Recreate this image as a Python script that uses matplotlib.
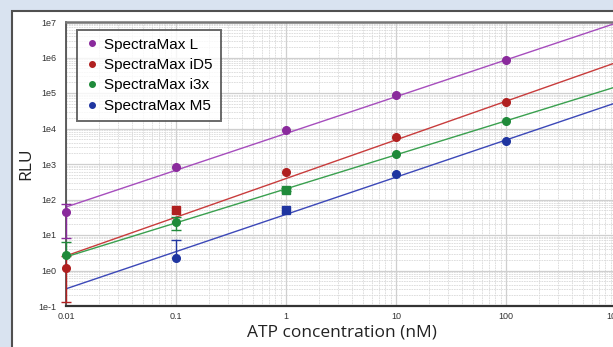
import matplotlib.pyplot as plt
import numpy as np
from matplotlib.patches import Rectangle
from matplotlib.ticker import LogLocator, FixedLocator, FixedFormatter, NullFormatter

# ATP concentrations (nM)
conc = [0.01, 0.1, 1, 10, 100]

names = ["SpectraMax L", "SpectraMax iD5", "SpectraMax i3x", "SpectraMax M5"]
line_colors = ["#a64dbd", "#c83c3c", "#3aa04f", "#3c48b8"]
dot_colors = ["#8a2a9c", "#b02020", "#1f8a3a", "#1f35a0"]

# measured RLU (nan = not shown)
rlu_L = [45, 830, 9100, 88000, 850000]
rlu_iD5 = [1.2, 50, 590, 5700, 56000]
rlu_i3x = [2.7, 23, 185, 1900, 16000]
rlu_M5 = [np.nan, 2.2, 50, 520, 4500]

# error bar ends (low, high); None = no bar
err_L = [(8, 74), None, None, None, None]
err_iD5 = [(0.13, 2.6), None, None, None, None]
err_i3x = [(2.7, 6.3), (14, 32), (170, 205), None, None]
err_M5 = [None, (2.2, 7.2), None, None, None]

# marker shape per point
shape_L = ["o", "o", "o", "o", "o"]
shape_iD5 = ["o", "s", "o", "o", "o"]
shape_i3x = ["o", "o", "s", "o", "o"]
shape_M5 = ["o", "o", "s", "o", "o"]

# log-log fit: log10(RLU) = slope * log10(conc) + intercept
fit_slope = [1.036, 1.089, 0.958, 1.048]
fit_intercept = [3.86, 2.59, 2.30, 1.58]

series = [
    (rlu_L, err_L, shape_L),
    (rlu_iD5, err_iD5, shape_iD5),
    (rlu_i3x, err_i3x, shape_i3x),
    (rlu_M5, err_M5, shape_M5),
]

W, H = 613, 347
fig = plt.figure(figsize=(W / 100, H / 100), dpi=100)
fig.patch.set_facecolor("#d9e3f0")

# white panel behind the chart
panel = Rectangle((12 / W, -0.1), 1.2, (H - 11) / H + 0.1, transform=fig.transFigure,
                  facecolor="white", edgecolor="#505050", linewidth=1.5, zorder=-5)
fig.patches.append(panel)

ax = fig.add_axes([66 / W, 41 / H, 550 / W, 284 / H])
ax.set_zorder(1)
ax.set_facecolor("white")
ax.set_xscale("log")
ax.set_yscale("log", nonpositive="clip")
ax.set_xlim(0.01, 1000)
ax.set_ylim(0.1, 1e7)

ax.grid(True, which="major", color="#cfcfcf", linewidth=0.9)
ax.grid(True, which="minor", color="#d9d9d9", linewidth=0.6, linestyle=(0, (2, 1)))
ax.xaxis.set_minor_locator(LogLocator(base=10, subs=np.arange(2, 10)))
ax.yaxis.set_minor_locator(LogLocator(base=10, subs=np.arange(2, 10)))
ax.xaxis.set_minor_formatter(NullFormatter())
ax.yaxis.set_minor_formatter(NullFormatter())

yt = [10.0 ** k for k in range(-1, 8)]
ax.yaxis.set_major_locator(FixedLocator(yt))
ax.yaxis.set_major_formatter(FixedFormatter(["1e%d" % k for k in range(-1, 8)]))
xt = [0.01, 0.1, 1, 10, 100, 1000]
ax.xaxis.set_major_locator(FixedLocator(xt))
ax.xaxis.set_major_formatter(FixedFormatter(["0.01", "0.1", "1", "10", "100", "1000"]))
ax.tick_params(which="both", length=0, labelsize=6.5, colors="#333333")
ax.tick_params(axis="x", pad=4)
ax.tick_params(axis="y", pad=7)
for lab in ax.get_xticklabels() + ax.get_yticklabels():
    lab.set_family("Liberation Sans")

ax.spines["right"].set_visible(False)
ax.spines["left"].set_color("#444444")
ax.spines["left"].set_linewidth(1.2)
ax.spines["bottom"].set_color("#333333")
ax.spines["bottom"].set_linewidth(1.6)
ax.spines["top"].set_color("#777777")
ax.spines["top"].set_linewidth(1.8)

xfit = np.logspace(-2, 3, 50)
for i, (vals, errs, shapes) in enumerate(series):
    yfit = 10 ** (fit_slope[i] * np.log10(xfit) + fit_intercept[i])
    ax.plot(xfit, yfit, color=line_colors[i], linewidth=1.0, zorder=3)
    for x, v, e, m in zip(conc, vals, errs, shapes):
        if e is not None:
            ax.plot([x, x], [e[0], e[1]], color=dot_colors[i], linewidth=1.0, zorder=4, clip_on=False)
            ax.plot([x], [e[1]], marker="_", markersize=7, color=dot_colors[i], zorder=4, clip_on=False)
            if e[0] < v:
                ax.plot([x], [e[0]], marker="_", markersize=7, color=dot_colors[i], zorder=4, clip_on=False)
        if not np.isnan(v):
            ax.plot([x], [v], marker=m, markersize=5.5, color=dot_colors[i],
                    linestyle="none", zorder=5, clip_on=False)

handles = [plt.Line2D([], [], marker="o", linestyle="none", markersize=4, color=c) for c in dot_colors]
leg = ax.legend(handles, names, loc="upper left", bbox_to_anchor=(11 / 550, 1 - 8 / 284),
                prop={"family": "Liberation Sans", "size": 11}, frameon=True, fancybox=False,
                handletextpad=0.3, handlelength=1.0, borderpad=0.5, labelspacing=0.42,
                borderaxespad=0)
leg.get_frame().set_edgecolor("#444444")
leg.get_frame().set_linewidth(1.4)

ax.set_xlabel("ATP concentration (nM)", fontsize=12.5, family="Open Sans", color="#222222")
ax.set_ylabel("RLU", fontsize=12.5, family="Open Sans", color="#222222")
ax.xaxis.set_label_coords(276 / 550, -0.065)
ax.yaxis.set_label_coords(-0.058, 0.5)

fig.savefig("out.png", dpi=100, facecolor=fig.get_facecolor())
